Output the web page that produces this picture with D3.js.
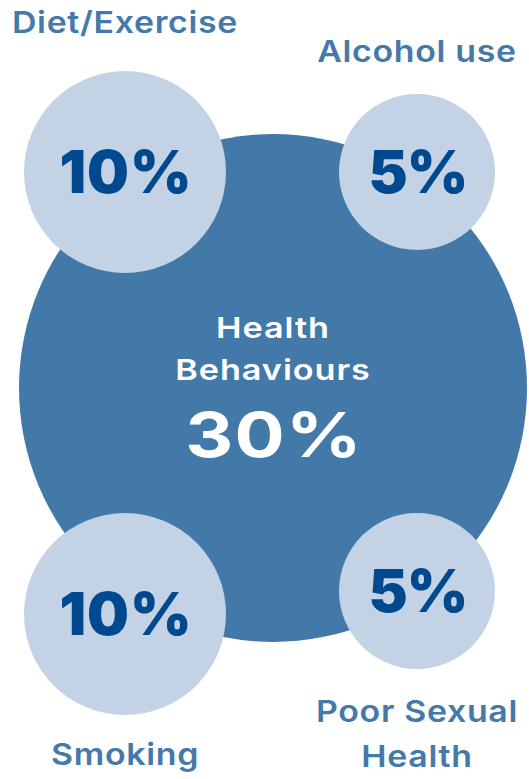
<!DOCTYPE html>
<html>
<head>
<meta charset="utf-8">
<script src="https://cdn.jsdelivr.net/npm/d3@7"></script>
<style>
  body { margin: 0; background: #fff; }
  svg { display: block; font-family: Inter, "Open Sans", sans-serif; }
</style>
</head>
<body>
<svg id="chart"></svg>
<script>
// Chart values
var total = { label: ["Health", "Behaviours"], value: 30 };
var categories = ["Diet/Exercise", "Alcohol use", "Smoking", "Poor Sexual Health"];
var values = [10, 5, 10, 5];
var labelLines = [["Diet/Exercise"], ["Alcohol use"], ["Smoking"], ["Poor Sexual", "Health"]];
var columns = ["left", "right", "left", "right"];
var rows = ["top", "top", "bottom", "bottom"];

var width = 529, height = 779;

var svg = d3.select("#chart")
    .attr("width", width)
    .attr("height", height);

// Scales for layout
var r = d3.scaleLinear()
    .domain([5, 10, 30])
    .range([78, 101, 254]);

var x = d3.scalePoint()
    .domain(["left", "center", "right"])
    .range([125, 417]);

var y = d3.scaleOrdinal()
    .domain(["top", "bottom"])
    .range([172, 614]);

var smallData = categories.map(function (c, i) {
    return { name: c, value: values[i], lines: labelLines[i], col: columns[i], row: rows[i] };
});

// circle centre y: small 5% circles sit a bit inward
function cy(d) {
    if (d.value === 5 && d.row === "bottom") return y(d.row) - (r(10) - r(5));
    return y(d.row);
}

// big circle sits slightly right of the column midpoint
var cx = x("center") + 2;

// Big circle
svg.append("circle")
    .attr("cx", cx)
    .attr("cy", 388)
    .attr("r", r(total.value))
    .attr("fill", "#4379a9");

// Small circles
svg.selectAll(".small")
    .data(smallData)
    .enter().append("circle")
    .attr("class", "small")
    .attr("cx", d => x(d.col))
    .attr("cy", d => cy(d))
    .attr("r", d => r(d.value))
    .attr("fill", "#c3d3e5");

// Percent labels
svg.selectAll(".pct")
    .data(smallData)
    .enter().append("text")
    .attr("class", "pct")
    .attr("x", d => x(d.col) + 1)
    .attr("y", d => cy(d) + 21)
    .attr("text-anchor", "middle")
    .attr("font-size", 59)
    .attr("font-weight", 900)
    .attr("letter-spacing", d => d.value === 5 ? -1 : 1)
    .attr("fill", "#00498f")
    .text(d => d.value + "%");

// Category labels (stretched a little to mimic the wide rounded face)
var lab = svg.selectAll(".lab")
    .data(smallData)
    .enter().append("g")
    .attr("class", "lab")
    .attr("transform", d => "translate(" + x(d.col) + ",0) scale(1.13,1)")
    .append("text")
    .attr("text-anchor", "middle")
    .attr("font-size", 30)
    .attr("font-weight", 600)
    .attr("letter-spacing", 0.6)
    .attr("fill", "#4479aa");

lab.each(function (d) {
    var t = d3.select(this);
    var base;
    if (d.row === "top") base = d.value === 10 ? 33 : 62;
    else base = d.lines.length > 1 ? 722 : 765;
    d.lines.forEach(function (line, j) {
        t.append("tspan")
            .attr("x", 0)
            .attr("y", base + j * 45)
            .text(line);
    });
});

// Centre labels
var centre = svg.append("g")
    .attr("transform", "translate(" + cx + ",0) scale(1.18,1)");

centre.selectAll(".centre")
    .data(total.label)
    .enter().append("text")
    .attr("class", "centre")
    .attr("x", 0)
    .attr("y", (d, i) => 338 + i * 42)
    .attr("text-anchor", "middle")
    .attr("font-size", 29)
    .attr("font-weight", 600)
    .attr("letter-spacing", 0.8)
    .attr("fill", "#fff")
    .text(d => d);

svg.append("g")
    .attr("transform", "translate(" + (cx + 1) + ",0) scale(1.2,1)")
    .append("text")
    .attr("x", 0)
    .attr("y", 457)
    .attr("text-anchor", "middle")
    .attr("font-size", 62)
    .attr("font-weight", 700)
    .attr("letter-spacing", 1)
    .attr("fill", "#fff")
    .text(total.value + "%");
</script>
</body>
</html>
